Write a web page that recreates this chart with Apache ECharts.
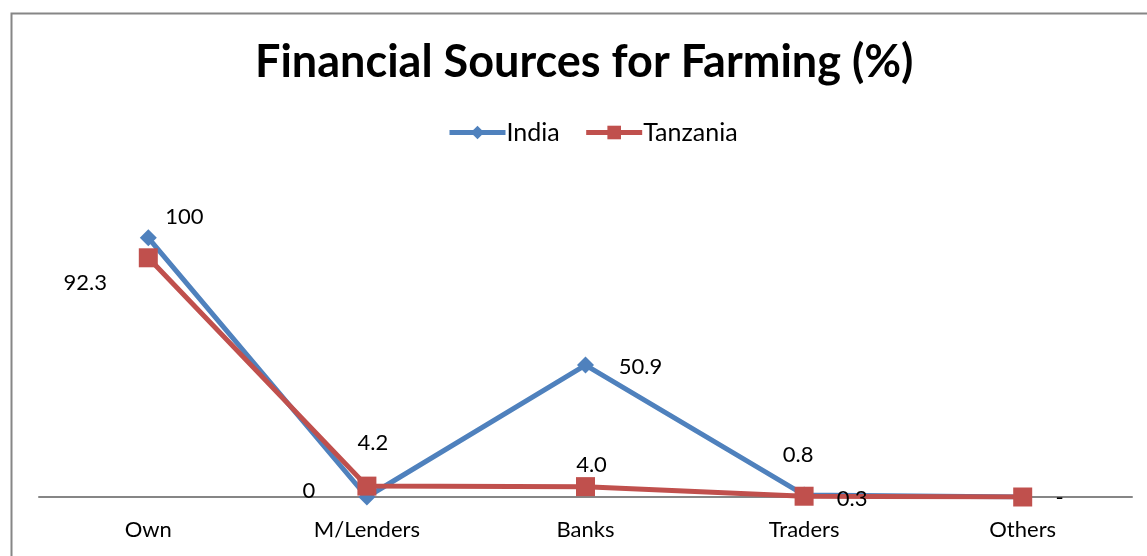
<!DOCTYPE html>
<html>
<head>
<meta charset="utf-8">
<script src="https://cdn.jsdelivr.net/npm/echarts@6/dist/echarts.min.js"></script>
<style>
  html, body { margin: 0; padding: 0; background: #ffffff; }
  #chart { width: 1147px; height: 556px; }
</style>
</head>
<body>
<div id="chart"></div>
<script>
// Financial sources for farming, share of respondents (%)
const categories = ['Own', 'M/Lenders', 'Banks', 'Traders', 'Others'];
const indiaValues = [100, 0, 50.9, 0.8, 0];
const tanzaniaValues = [92.3, 4.2, 4.0, 0.3, 0];
const tanzaniaLabels = ['92.3', '4.2', '4.0', '0.3', '-'];
const indiaLabels = ['100', '0', '50.9', '0.8', ''];

const FONT = 'Lato, "Open Sans", sans-serif';
const BLUE = '#4F81BD';
const RED = '#C0504D';

// label placement (pixel offsets from each marker's centre)
const indiaOffsets = [[36, -21], [-58, -6], [55, 2], [-6, -40], [0, 0]];
const tanzaniaOffsets = [[-63, 25], [6, -43], [6, -22], [48, 3], [37, 1]];

function buildData(values, texts, offsets) {
  return values.map((v, i) => ({
    value: v,
    label: {
      show: texts[i] !== '',
      position: 'inside',
      offset: offsets[i],
      formatter: texts[i]
    }
  }));
}

const chart = echarts.init(document.getElementById('chart'), null, { renderer: 'canvas' });

chart.setOption({
  backgroundColor: '#ffffff',
  animation: false,
  title: {
    text: 'Financial Sources for Farming (%)',
    left: 250,
    top: 35,
    textStyle: { fontFamily: FONT, fontWeight: 'bold', fontSize: 45, color: '#000000' }
  },
  legend: {
    top: 115,
    left: 442,
    itemWidth: 56,
    itemHeight: 17,
    itemGap: 24,
    lineStyle: { width: 5 },
    textStyle: { fontFamily: FONT, fontSize: 25, color: '#000000', padding: [0, 0, 0, -4] },
    data: ['India', 'Tanzania']
  },
  graphic: [{
    type: 'rect',
    left: 9, top: 11,
    shape: { width: 1300, height: 700 },
    style: { fill: 'none', stroke: '#868686', lineWidth: 2 },
    silent: true
  }],
  grid: { left: 39, right: 15, top: 186, bottom: 59, containLabel: false },
  xAxis: {
    type: 'category',
    data: categories,
    boundaryGap: true,
    axisLine: { show: true, lineStyle: { color: '#868686', width: 2 } },
    axisTick: { show: false },
    axisLabel: { fontFamily: FONT, fontSize: 22, color: '#000000', margin: 22 }
  },
  yAxis: {
    type: 'value',
    min: 0, max: 120, interval: 20,
    show: false,
    splitLine: { show: false }
  },
  series: [
    {
      name: 'India',
      type: 'line',
      data: buildData(indiaValues, indiaLabels, indiaOffsets),
      symbol: 'diamond',
      symbolSize: 17,
      lineStyle: { color: BLUE, width: 5 },
      itemStyle: { color: BLUE },
      label: { fontFamily: FONT, fontSize: 22, color: '#000000' },
      z: 2
    },
    {
      name: 'Tanzania',
      type: 'line',
      data: buildData(tanzaniaValues, tanzaniaLabels, tanzaniaOffsets),
      symbol: 'rect',
      symbolSize: 19,
      lineStyle: { color: RED, width: 5 },
      itemStyle: { color: RED },
      label: { fontFamily: FONT, fontSize: 22, color: '#000000' },
      z: 3
    }
  ]
});
</script>
</body>
</html>
